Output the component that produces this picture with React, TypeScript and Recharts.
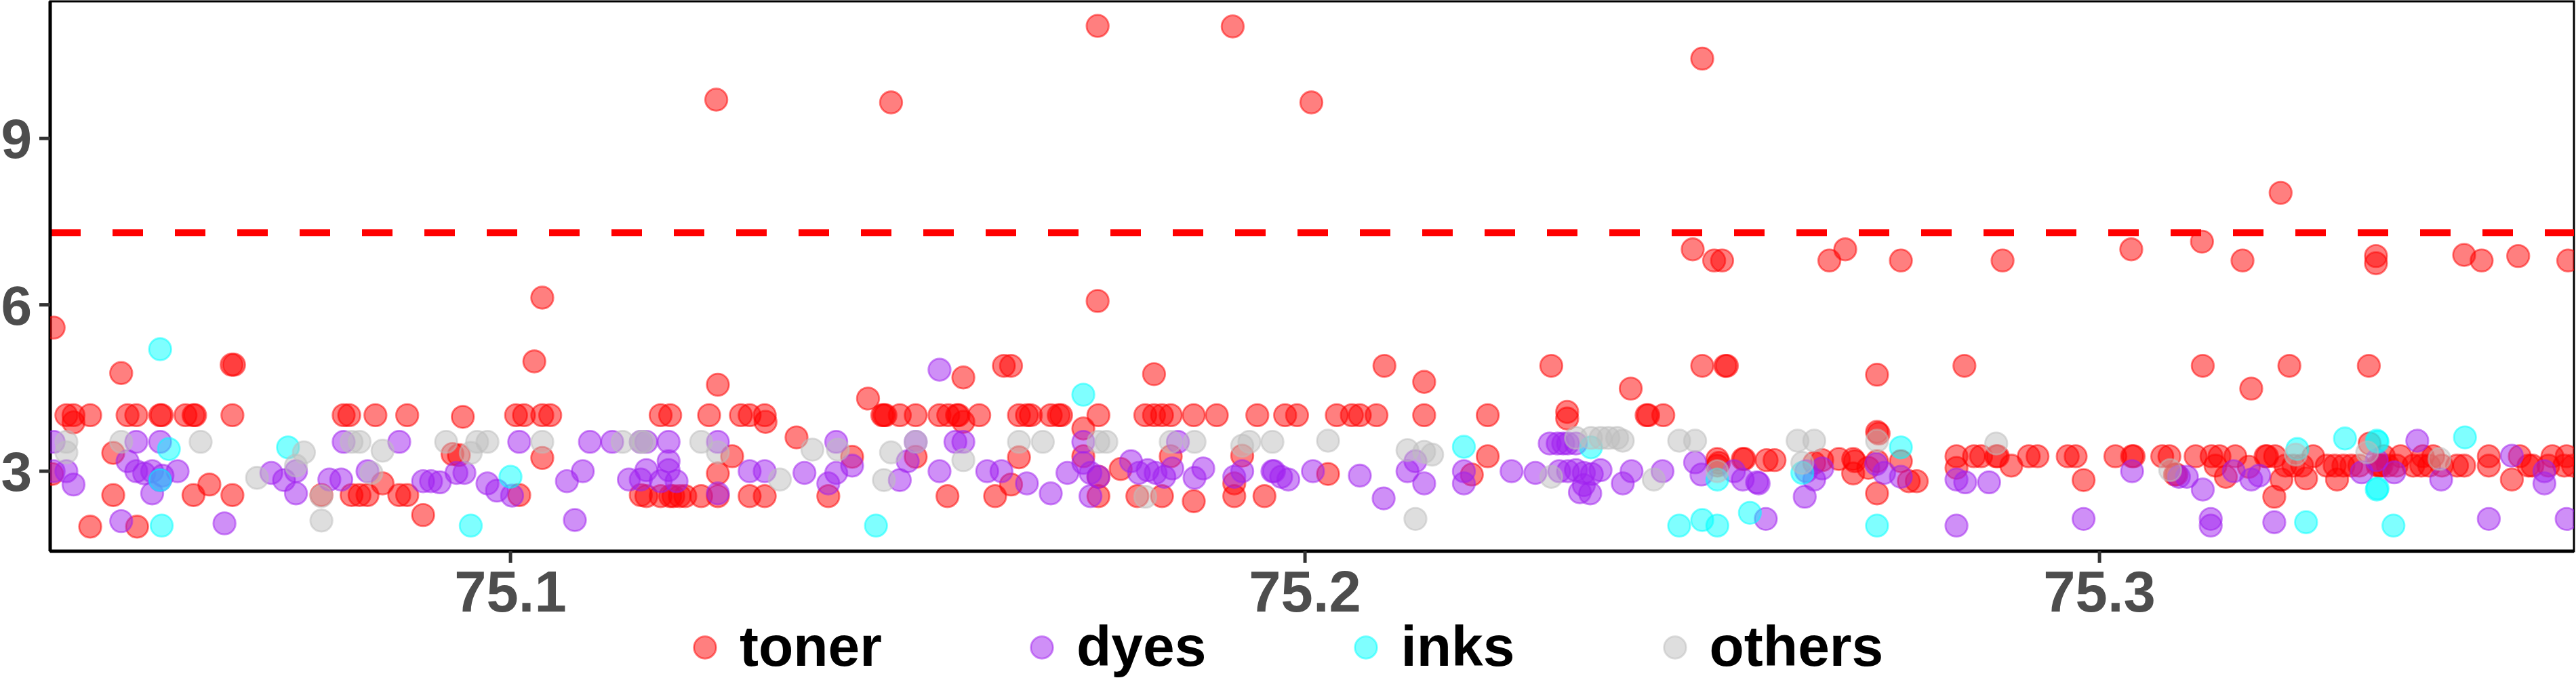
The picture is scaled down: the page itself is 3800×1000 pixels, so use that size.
import React from "react";
import {
  ScatterChart,
  Scatter,
  XAxis,
  YAxis,
  ReferenceLine,
  ReferenceArea,
} from "recharts";

// Position (Mb) and -log10(p) for each class
const toner: [number, number][] = [
  [75.1739, 11.03], [75.1909, 11.02], [75.25, 10.44], [75.1259, 9.7], [75.1479, 9.65], [75.2008, 9.65], [75.3228, 8.02],
  [75.2488, 7.0], [75.2515, 6.8], [75.2525, 6.8], [75.266, 6.8], [75.268, 7.0], [75.275, 6.8], [75.2878, 6.8], [75.304, 7.0],
  [75.3129, 7.14], [75.318, 6.8], [75.3348, 6.88], [75.3348, 6.75], [75.3459, 6.9], [75.3481, 6.8], [75.3527, 6.88], [75.359, 6.8],
  [75.104, 6.13], [75.1739, 6.07], [75.0425, 5.59],
  [75.051, 4.77], [75.0649, 4.92], [75.0652, 4.92], [75.103, 4.98],
  [75.0441, 4.01], [75.045, 4.01], [75.0471, 4.01], [75.0518, 4.01], [75.0529, 4.01], [75.0559, 4.01], [75.0561, 4.01],
  [75.0591, 4.01], [75.0601, 4.01], [75.0603, 4.01], [75.065, 4.01], [75.079, 4.01], [75.0797, 4.01], [75.083, 4.01],
  [75.087, 4.01], [75.1007, 4.01], [75.1017, 4.01], [75.104, 4.01], [75.105, 4.01], [75.045, 3.88], [75.094, 3.98],
  [75.05, 3.33], [75.0927, 3.31], [75.0935, 3.29], [75.104, 3.24], [75.0423, 2.95],
  [75.05, 2.57], [75.0601, 2.57], [75.0621, 2.76], [75.065, 2.57], [75.0762, 2.57], [75.08, 2.57], [75.081, 2.57],
  [75.082, 2.57], [75.0839, 2.78], [75.086, 2.57], [75.087, 2.57], [75.1011, 2.57], [75.1164, 2.57],
  [75.0471, 2.0], [75.053, 2.0], [75.089, 2.21],
  [75.1261, 4.56], [75.157, 4.69], [75.1621, 4.9], [75.163, 4.9], [75.181, 4.75], [75.145, 4.31],
  [75.1189, 4.01], [75.1201, 4.01], [75.125, 4.01], [75.129, 4.01], [75.1301, 4.01], [75.132, 4.01], [75.147, 4.01],
  [75.1472, 4.01], [75.1468, 4.01], [75.149, 4.01], [75.151, 4.01], [75.154, 4.01], [75.1551, 4.01], [75.1562, 4.01],
  [75.1564, 4.01], [75.159, 4.01], [75.164, 4.01], [75.165, 4.01], [75.1655, 4.01], [75.168, 4.01], [75.169, 4.01],
  [75.1693, 4.01], [75.174, 4.01], [75.1799, 4.01], [75.181, 4.01], [75.182, 4.01], [75.1831, 4.01], [75.186, 4.01],
  [75.1889, 4.01], [75.194, 4.01], [75.1975, 4.01], [75.1321, 3.89], [75.157, 3.89], [75.1721, 3.77],
  [75.1279, 3.27], [75.1261, 2.96], [75.136, 3.61], [75.143, 3.26], [75.151, 3.26], [75.164, 3.25], [75.163, 2.76],
  [75.1721, 3.27], [75.174, 2.9], [75.1768, 3.04], [75.1831, 3.27], [75.1921, 3.28], [75.1911, 2.78],
  [75.1171, 2.55], [75.1189, 2.55], [75.1201, 2.55], [75.1205, 2.55], [75.1213, 2.55], [75.122, 2.55], [75.124, 2.55],
  [75.1261, 2.55], [75.1301, 2.55], [75.132, 2.55], [75.14, 2.55], [75.155, 2.55], [75.161, 2.55], [75.174, 2.55],
  [75.1789, 2.55], [75.182, 2.55], [75.1949, 2.55], [75.186, 2.46], [75.1911, 2.55],
  [75.21, 4.9], [75.215, 4.61], [75.231, 4.9], [75.241, 4.49], [75.25, 4.9], [75.2529, 4.9], [75.2531, 4.9], [75.272, 4.74],
  [75.199, 4.01], [75.204, 4.01], [75.2059, 4.01], [75.2069, 4.01], [75.209, 4.01], [75.215, 4.01], [75.223, 4.01],
  [75.233, 4.07], [75.233, 3.95], [75.243, 4.01], [75.2432, 4.01], [75.2451, 4.01],
  [75.272, 3.71], [75.2722, 3.68], [75.223, 3.27], [75.2029, 2.95], [75.221, 2.94],
  [75.2519, 3.22], [75.2519, 3.1], [75.2521, 3.15], [75.2551, 3.22], [75.2553, 3.22], [75.2581, 3.2], [75.2591, 3.2],
  [75.2641, 3.15], [75.2651, 3.2], [75.2672, 3.22], [75.269, 3.22], [75.2692, 3.18], [75.269, 2.96], [75.2709, 3.06],
  [75.272, 3.18], [75.272, 2.6], [75.275, 3.18], [75.276, 2.82], [75.277, 2.82],
  [75.283, 4.9], [75.313, 4.9], [75.3239, 4.9], [75.3339, 4.9], [75.3191, 4.49],
  [75.282, 3.27], [75.2842, 3.27], [75.2851, 3.27], [75.287, 3.27], [75.2872, 3.27], [75.2911, 3.27], [75.2922, 3.27],
  [75.296, 3.27], [75.297, 3.27], [75.302, 3.27], [75.3041, 3.27], [75.3043, 3.27], [75.3079, 3.27], [75.3088, 3.27],
  [75.3121, 3.27], [75.3141, 3.27], [75.3151, 3.27], [75.3171, 3.27], [75.3209, 3.27], [75.3211, 3.27], [75.3221, 3.27],
  [75.3269, 3.27], [75.3358, 3.27], [75.3379, 3.27], [75.3407, 3.27], [75.342, 3.27], [75.349, 3.27], [75.3529, 3.27],
  [75.357, 3.27], [75.3588, 3.27], [75.2889, 3.1], [75.334, 3.5],
  [75.3234, 3.1], [75.3244, 3.1], [75.3255, 3.1], [75.3286, 3.1], [75.3296, 3.1], [75.3307, 3.1], [75.3317, 3.1],
  [75.3327, 3.1], [75.3353, 3.1], [75.3363, 3.1], [75.3374, 3.1], [75.3395, 3.1], [75.3405, 3.1], [75.3415, 3.1],
  [75.3431, 3.1], [75.3459, 3.1], [75.349, 3.1], [75.354, 3.1], [75.3565, 3.1], [75.3585, 3.1], [75.3596, 3.1],
  [75.335, 3.1], [75.3355, 3.1], [75.345, 3.1], [75.3545, 3.1],
  [75.3146, 3.1], [75.3188, 3.08], [75.3095, 2.94], [75.3097, 2.94], [75.3159, 2.9], [75.282, 3.06],
  [75.298, 2.84], [75.3229, 2.85], [75.326, 2.87], [75.3299, 2.85], [75.322, 2.54], [75.3519, 2.85],
];

const dyes: [number, number][] = [
  [75.0425, 3.53], [75.0529, 3.53], [75.0559, 3.53], [75.079, 3.53], [75.086, 3.53], [75.1011, 3.53], [75.11, 3.53],
  [75.1128, 3.53], [75.1164, 3.53],
  [75.0425, 3.0], [75.0441, 3.0], [75.045, 2.76], [75.0518, 3.18], [75.0529, 3.0], [75.0539, 2.96], [75.0549, 2.6],
  [75.0549, 3.0], [75.0562, 2.92], [75.0581, 3.0], [75.0559, 2.84], [75.0699, 2.97], [75.073, 3.0], [75.0715, 2.84],
  [75.073, 2.6], [75.0772, 2.85], [75.0787, 2.85], [75.082, 3.0], [75.089, 2.82], [75.09, 2.82], [75.0911, 2.8],
  [75.0932, 2.97], [75.0942, 2.97], [75.0971, 2.78], [75.0983, 2.65], [75.1002, 2.56], [75.1071, 2.82], [75.1091, 3.0],
  [75.1149, 2.85], [75.1164, 2.85], [75.051, 2.1], [75.064, 2.06], [75.1081, 2.12],
  [75.1171, 3.53], [75.1199, 3.53], [75.1261, 3.53], [75.141, 3.53], [75.151, 3.53], [75.156, 3.53], [75.157, 3.53],
  [75.1721, 3.53], [75.184, 3.53], [75.154, 4.83],
  [75.1199, 3.18], [75.1171, 3.02], [75.1199, 3.02], [75.1189, 2.82], [75.1209, 2.82], [75.1301, 3.0], [75.132, 3.0],
  [75.137, 2.97], [75.141, 2.97], [75.14, 2.78], [75.143, 3.1], [75.15, 3.18], [75.149, 2.84], [75.154, 3.0], [75.16, 3.0],
  [75.1618, 3.0], [75.165, 2.78], [75.168, 2.6], [75.1701, 2.97], [75.1721, 3.15], [75.173, 2.97], [75.174, 2.9],
  [75.173, 2.55], [75.1781, 3.18], [75.1791, 2.97], [75.1802, 3.02], [75.1812, 2.97], [75.1823, 2.9], [75.1833, 3.05],
  [75.1861, 2.88], [75.1872, 3.05], [75.1911, 2.9], [75.1921, 3.0], [75.1959, 3.0], [75.1961, 3.0], [75.197, 2.9],
  [75.1261, 2.6],
  [75.2308, 3.5], [75.2318, 3.5], [75.2331, 3.5], [75.2341, 3.5], [75.2325, 3.5],
  [75.1979, 2.85], [75.201, 3.0], [75.2069, 2.92], [75.2129, 3.0], [75.2139, 3.18], [75.215, 2.78], [75.22, 3.0],
  [75.22, 2.78], [75.226, 3.0], [75.229, 2.97], [75.232, 3.0], [75.2331, 3.0], [75.2341, 3.02], [75.2351, 2.97],
  [75.2361, 2.95], [75.2372, 3.02], [75.2351, 2.75], [75.2359, 2.6], [75.2346, 2.62], [75.24, 2.78], [75.2411, 3.0],
  [75.245, 3.0], [75.2491, 3.16], [75.2499, 2.94], [75.254, 3.0], [75.2551, 2.85], [75.2569, 2.8], [75.2571, 2.78],
  [75.2631, 3.0], [75.2641, 2.85], [75.2651, 3.05], [75.2629, 2.54], [75.2719, 3.13], [75.2729, 2.97], [75.275, 2.9],
  [75.2099, 2.51], [75.258, 2.14],
  [75.282, 2.85], [75.2831, 2.8], [75.2861, 2.8], [75.3041, 3.0], [75.31, 2.9], [75.311, 2.9], [75.313, 2.67],
  [75.3169, 3.0], [75.3191, 2.85], [75.3201, 2.92], [75.333, 2.98], [75.3349, 3.2], [75.3371, 2.98], [75.34, 3.55],
  [75.343, 2.85], [75.3519, 3.28], [75.356, 2.78], [75.356, 3.0],
  [75.282, 2.02], [75.298, 2.14], [75.314, 2.14], [75.314, 2.02], [75.322, 2.08], [75.349, 2.14], [75.3588, 2.14],
];

const inks: [number, number][] = [
  [75.0559, 5.2], [75.057, 3.4], [75.072, 3.43], [75.0559, 2.84], [75.0561, 2.02], [75.095, 2.02], [75.1, 2.9],
  [75.1721, 4.38], [75.146, 2.02],
  [75.22, 3.44], [75.236, 3.43], [75.275, 3.43], [75.2519, 2.85], [75.2626, 2.97], [75.2471, 2.02], [75.25, 2.12],
  [75.2519, 2.02], [75.256, 2.25], [75.272, 2.02],
  [75.3249, 3.4], [75.3309, 3.59], [75.3349, 3.55], [75.335, 3.53], [75.3349, 2.67], [75.335, 2.69], [75.346, 3.61],
  [75.326, 2.08], [75.337, 2.02],
];

const others: [number, number][] = [
  [75.0441, 3.53], [75.051, 3.53], [75.061, 3.53], [75.08, 3.53], [75.081, 3.53], [75.0919, 3.53], [75.0958, 3.53],
  [75.0971, 3.53], [75.104, 3.53], [75.1141, 3.53], [75.1164, 3.53],
  [75.0441, 3.34], [75.074, 3.34], [75.0839, 3.37], [75.095, 3.33], [75.0681, 2.88], [75.0825, 2.97], [75.0762, 2.55],
  [75.0762, 2.11], [75.073, 3.1],
  [75.1168, 3.53], [75.124, 3.53], [75.151, 3.53], [75.164, 3.53], [75.167, 3.53], [75.174, 3.53], [75.175, 3.53],
  [75.1831, 3.53], [75.1861, 3.53], [75.193, 3.53], [75.1959, 3.53],
  [75.1261, 3.34], [75.138, 3.39], [75.1412, 3.39], [75.1479, 3.34], [75.157, 3.2], [75.1339, 2.85], [75.147, 2.84],
  [75.1921, 3.46], [75.1799, 2.54],
  [75.2029, 3.55], [75.2341, 3.6], [75.236, 3.6], [75.2372, 3.6], [75.2382, 3.6], [75.2393, 3.6], [75.24, 3.55],
  [75.2471, 3.55], [75.2491, 3.55], [75.262, 3.55], [75.2641, 3.55], [75.272, 3.55], [75.2129, 3.38], [75.215, 3.35],
  [75.216, 3.3], [75.231, 2.9], [75.2439, 2.85], [75.2519, 3.0], [75.2626, 3.15], [75.2139, 2.14],
  [75.287, 3.5], [75.3089, 3.02], [75.3337, 3.34], [75.3428, 3.22], [75.3247, 3.3],
];

const xTicks = [75.1, 75.2, 75.3];
const yTicks = [3, 6, 9];
const xDomain: [number, number] = [75.04206, 75.35972];
const yDomain: [number, number] = [1.5575, 11.472];
const threshold = 7.3;

const seriesDefs = [
  { name: "toner", color: "#FF0000", pts: toner },
  { name: "dyes", color: "#A020F0", pts: dyes },
  { name: "inks", color: "#00FFFF", pts: inks },
  { name: "others", color: "#BEBEBE", pts: others },
];

const FONT = "'Liberation Sans', Arial, Helvetica, sans-serif";

const makeDot = (color: string) => (props: any) => {
  const { cx, cy } = props;
  if (cx == null || cy == null) return <g />;
  return (
    <circle
      cx={cx}
      cy={cy}
      r={16.3}
      fill={color}
      fillOpacity={0.5}
      stroke={color}
      strokeOpacity={0.5}
      strokeWidth={2.8}
    />
  );
};

const Legend = () => (
  <div
    style={{
      position: "absolute",
      left: 1022,
      top: 908,
      display: "flex",
      alignItems: "center",
      gap: 218,
      fontFamily: FONT,
      fontWeight: "bold",
      fontSize: 84,
      color: "#000",
      whiteSpace: "nowrap",
    }}
  >
    {seriesDefs.map((s) => (
      <div key={s.name} style={{ display: "flex", alignItems: "center" }}>
        <svg width={36} height={36} style={{ marginRight: 33, marginTop: 4 }}>
          <circle
            cx={18}
            cy={18}
            r={16.3}
            fill={s.color}
            fillOpacity={0.5}
            stroke={s.color}
            strokeOpacity={0.5}
            strokeWidth={2.8}
          />
        </svg>
        <span style={{ lineHeight: "90px" }}>{s.name}</span>
      </div>
    ))}
  </div>
);

export default function App() {
  return (
    <div
      style={{
        position: "absolute",
        left: 0,
        top: 0,
        width: 3800,
        height: 1000,
        background: "#fff",
        overflow: "hidden",
      }}
    >
      <ScatterChart
        width={3800}
        height={1000}
        margin={{ top: 2, right: 3, bottom: 0, left: 0 }}
      >
        <XAxis
          type="number"
          dataKey="pos"
          domain={xDomain}
          ticks={xTicks}
          allowDataOverflow
          height={187}
          tickSize={17}
          tickMargin={12}
          axisLine={{ stroke: "#000", strokeWidth: 5 }}
          tickLine={{ stroke: "#333", strokeWidth: 5 }}
          tick={{ fontSize: 85, fontWeight: "bold", fill: "#4D4D4D", fontFamily: FONT }}
          tickFormatter={(v: number) => v.toFixed(1)}
        />
        <YAxis
          type="number"
          dataKey="logp"
          domain={yDomain}
          ticks={yTicks}
          allowDataOverflow
          width={74}
          tickSize={16}
          tickMargin={11}
          axisLine={{ stroke: "#000", strokeWidth: 5 }}
          tickLine={{ stroke: "#333", strokeWidth: 5 }}
          tick={{ fontSize: 82, fontWeight: "bold", fill: "#4D4D4D", fontFamily: FONT }}
        />
        <ReferenceArea
          x1={xDomain[0]}
          x2={xDomain[1]}
          y1={yDomain[0]}
          y2={yDomain[1]}
          fill="none"
          fillOpacity={0}
          stroke="#000"
          strokeWidth={3}
          ifOverflow="visible"
        />
        {seriesDefs.map((s) => (
          <Scatter
            key={s.name}
            name={s.name}
            data={s.pts.map(([pos, logp]) => ({ pos, logp }))}
            fill={s.color}
            shape={makeDot(s.color)}
            isAnimationActive={false}
          />
        ))}
        <ReferenceLine
          y={threshold}
          stroke="#FF0000"
          strokeWidth={10}
          strokeDasharray="45 47"
        />
      </ScatterChart>
      <Legend />
    </div>
  );
}
